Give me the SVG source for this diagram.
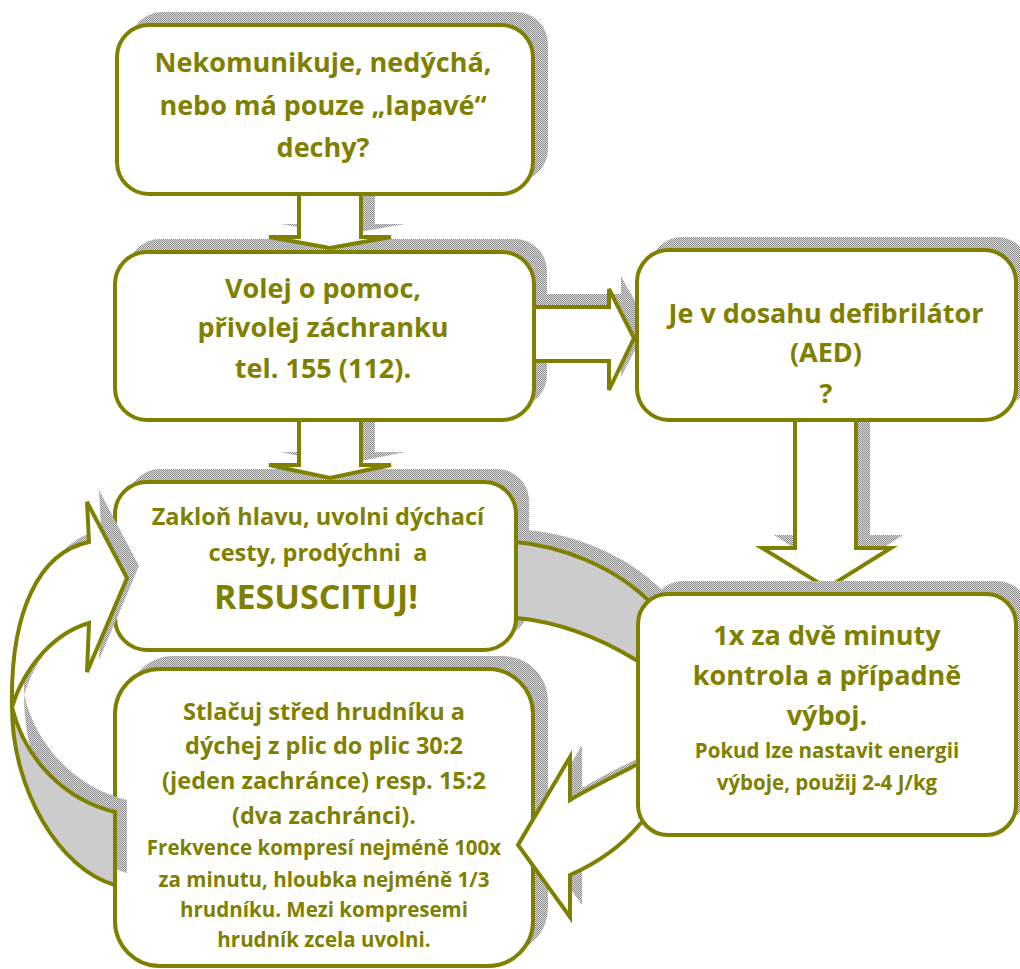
<svg xmlns="http://www.w3.org/2000/svg" width="1020" height="969" viewBox="0 0 1020 969">
<defs>
<pattern id="dots" width="2" height="2" patternUnits="userSpaceOnUse"><rect width="2" height="2" fill="#dcdcdc"/><rect width="1" height="1" fill="#8c8c8c"/><rect x="1" y="1" width="1" height="1" fill="#8c8c8c"/></pattern>
<style>
.box{fill:#fff;stroke:#808000;stroke-width:4}
.arr{fill:#fff;stroke:#808000;stroke-width:4;stroke-linejoin:miter}
.band{fill:#cccccc;stroke:#808000;stroke-width:4}
.sh{fill:url(#dots);stroke:none}
text{font-family:"Open Sans","Noto Sans",sans-serif;font-weight:700;fill:#808000;text-anchor:middle;white-space:pre}
.t1{font-size:27px}
.t2{font-size:23.5px}
.t3{font-size:34px}
.t4{font-size:23.5px}
.t5{font-size:20.5px}
</style>
</defs>
<rect width="1020" height="969" fill="#fff"/>

<g id="shadows">
<rect class="sh" x="130" y="12" width="418" height="169" rx="32"/>
<rect class="sh" x="128" y="239" width="419" height="168" rx="32"/>
<rect class="sh" x="650" y="237" width="379" height="170" rx="32"/>
<rect class="sh" x="128" y="469" width="401" height="168" rx="32"/>
<rect class="sh" x="128" y="656" width="420" height="297" rx="45"/>
<polygon class="sh" points="311,183 375,183 375,224 405,224 342,235 281,224 311,224"/>
<polygon class="sh" points="311,409 375,409 375,452 405,452 342,465 281,452 311,452"/>
<polygon class="sh" points="536,294 621,294 621,276 648,325 621,377 621,348 536,348"/>
<polygon class="sh" points="807,407 870,407 870,535 903,535 839,577 774,535 807,535"/>
</g>

<g id="n1">
<rect class="box" x="117" y="25" width="416" height="169" rx="32"/>
<text class="t1" x="323" y="72">Nekomunikuje, nedýchá,</text>
<text class="t1" x="323" y="115">nebo má pouze „lapavé“</text>
<text class="t1" x="323" y="157">dechy?</text>
</g>

<g id="n2">
<rect class="box" x="115" y="252" width="419" height="168" rx="32"/>
<text class="t1" x="323" y="298">Volej o pomoc,</text>
<text class="t1" x="323" y="337">přivolej záchranku</text>
<text class="t1" x="323" y="378">tel. 155 (112).</text>
</g>

<g id="n3">
<rect class="box" x="637" y="250" width="379" height="170" rx="32"/>
<text class="t1" x="826" y="323">Je v dosahu defibrilátor</text>
<text class="t1" x="826" y="362">(AED)</text>
<text class="t1" x="826" y="403">?</text>
</g>

<g id="n5">
<rect class="box" x="115" y="482" width="401" height="168" rx="32"/>
<text class="t2" x="318" y="525">Zakloň hlavu, uvolni dýchací</text>
<text class="t2" x="318" y="561" xml:space="preserve">cesty, prodýchni  a</text>
<text class="t3" x="316" y="609">RESUSCITUJ!</text>
</g>

<g id="n6">
<rect class="box" x="115" y="669" width="418" height="297" rx="45"/>
<text class="t4" x="324" y="720">Stlačuj střed hrudníku a</text>
<text class="t4" x="324" y="754">dýchej z plic do plic 30:2</text>
<text class="t4" x="324" y="789">(jeden zachránce) resp. 15:2</text>
<text class="t4" x="324" y="824">(dva zachránci).</text>
<text class="t5" x="324" y="855">Frekvence kompresí nejméně 100x</text>
<text class="t5" x="324" y="887">za minutu, hloubka nejméně 1/3</text>
<text class="t5" x="324" y="917">hrudníku. Mezi kompresemi</text>
<text class="t5" x="324" y="947">hrudník zcela uvolni.</text>
</g>

<g id="connectors">
<polygon class="arr" points="299,194 361,194 361,237 391,237 330,248 269,237 299,237"/>
<polygon class="arr" points="299,420 361,420 361,465 391,465 330,478 269,465 299,465"/>
<polygon class="arr" points="534,307 609,307 609,289 634,338 609,390 609,361 534,361"/>
<polygon class="arr" points="795,420 856,420 856,548 891,548 827,588 762,548 795,548"/>
<g transform="translate(12,-12)">
<path class="sh" d="M89,542 L87,502 L127,578 L87,672 L89,623 C55,633 25,665 12,707 C12,790 60,870 115,885 L115,812 C65,800 25,760 12,707 C10,610 40,552 89,542 Z"/>
<path class="sh" d="M516,542 C560,546 615,566 652,604 L660,680 C600,638 560,622 516,618 Z"/>
<path class="sh" d="M665,755 L636,765 C615,776 590,788 570,800 L570,757 L518,845 L570,917 L570,875 C595,864 620,848 640,824 L670,800 Z"/>
</g>
<path class="band" d="M12,707 C12,790 60,870 115,885 L115,812 C65,800 25,760 12,707 Z"/>
<path class="arr" d="M89,542 L87,502 L127,578 L87,672 L89,623 C55,633 25,665 12,707 C10,610 40,552 89,542 Z"/>
<path class="band" d="M516,542 C560,546 615,566 652,604 L660,680 L636,660 C600,638 560,622 516,618 Z"/>
<path class="arr" d="M665,755 L636,765 C615,776 590,788 570,800 L570,757 L518,845 L570,917 L570,875 C595,864 620,848 640,824 L670,800 Z"/>
</g>

<g id="n4">
<rect class="sh" x="651" y="581" width="378" height="241" rx="32"/>
<rect class="box" x="638" y="594" width="378" height="241" rx="30"/>
<text class="t1" x="827" y="645">1x za dvě minuty</text>
<text class="t1" x="827" y="685">kontrola a případně</text>
<text class="t1" x="827" y="725">výboj.</text>
<text class="t5" x="827" y="758">Pokud lze nastavit energii</text>
<text class="t5" x="827" y="790">výboje, použij 2-4 J/kg</text>
</g>
</svg>
